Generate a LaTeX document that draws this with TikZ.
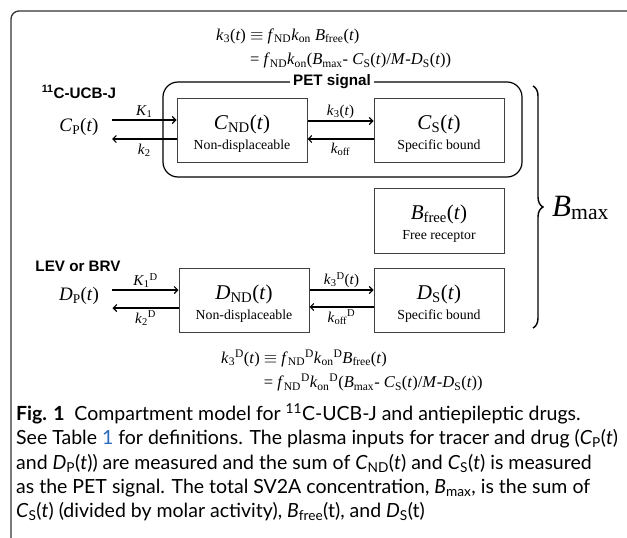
\documentclass[tikz,border=0pt]{standalone}
\usepackage{fontspec}
\setmainfont{Liberation Serif}
\newfontfamily\lbfont{Liberation Sans}
\newfontfamily\capfont{Lato}
\usetikzlibrary{arrows.meta,decorations.pathreplacing}
\definecolor{tabblue}{RGB}{40,105,190}
\newcommand{\vi}[1]{\textit{#1}}
\newcommand{\sbs}[1]{\textsubscript{#1}}
\newcommand{\sps}[1]{\textsuperscript{#1}}
\newcommand{\comp}[2]{\begin{tabular}{@{}c@{}}\fontsize{21}{21}\selectfont\rule[-8pt]{0pt}{30pt}#1\\\fontsize{13.8}{16}\selectfont\rule[-4pt]{0pt}{16pt}#2\end{tabular}}

\begin{document}
\begin{tikzpicture}[x=1pt,y=-1pt,
    box/.style={draw=black!75,line width=1pt,minimum width=130,minimum height=64,inner sep=0pt},
    flow/.style={-{Straight Barb[length=3.5pt,width=7pt]},line width=1.1pt},
    rate/.style={font=\fontsize{15}{16}\selectfont,inner sep=1.5pt},
    tag/.style={font=\lbfont\bfseries\fontsize{15.2}{16}\selectfont},
    inp/.style={font=\fontsize{19}{20}\selectfont}]
  \useasboundingbox (0,0) rectangle (627,538);
  \draw[black!80,line width=1.3pt,rounded corners=8pt] (630,11) -- (11,11) -- (11,541);

  \node[anchor=north west,inner sep=0pt,font=\fontsize{16.5}{24.5}\selectfont] (topeq) at (216,23)
    {\begin{tabular}{@{}r@{ }l@{}}
      \vi{k}\sbs{3}(\vi{t}) & $\equiv$ \vi{f}\sbs{ND}\vi{k}\sbs{on} \vi{B}\sbs{free}(\vi{t})\\
      & = \vi{f}\sbs{ND}\vi{k}\sbs{on}(\vi{B}\sbs{max}- \vi{C}\sbs{S}(\vi{t})/\vi{M}-\vi{D}\sbs{S}(\vi{t}))
    \end{tabular}};

  \node[draw,line width=1.2pt,rounded corners=15pt,minimum width=359,minimum height=95] (pet) at (342.5,129.5) {};
  \node[tag,fill=white,inner sep=3pt] (petlab) at (332,82) {PET signal};

  \node[tag] (tracer) at (79,92) {\sps{11}C-UCB-J};
  \node[inp] (cp) at (79,127) {\vi{C}\sbs{P}(\vi{t})};
  \node[box] (cnd) at (242,130) {\comp{\vi{C}\sbs{ND}(\vi{t})}{Non-displaceable}};
  \node[box] (cs) at (439,130) {\comp{\vi{C}\sbs{S}(\vi{t})}{Specific bound}};
  \node[box,minimum height=65] (bfree) at (439,220.5) {\comp{\vi{B}\sbs{free}(\vi{t})}{Free receptor}};

  \node[tag] (drug) at (78,266) {LEV or BRV};
  \node[inp] (dp) at (79,296) {\vi{D}\sbs{P}(\vi{t})};
  \node[box] (dnd) at (244,300) {\comp{\vi{D}\sbs{ND}(\vi{t})}{Non-displaceable}};
  \node[box] (ds) at (439,300) {\comp{\vi{D}\sbs{S}(\vi{t})}{Specific bound}};

  \draw[flow] ([xshift=10pt,yshift=7pt]cp.east) -- node[rate,above] {\vi{K}\sbs{1}} ([yshift=10pt]cnd.west);
  \draw[flow] ([yshift=-9pt]cnd.west) -- node[rate,below,yshift=-3pt] {\vi{k}\sbs{2}} ([xshift=10pt,yshift=-12pt]cp.east);
  \draw[flow] ([yshift=9pt]cnd.east) -- node[rate,above] {\vi{k}\sbs{3}(\vi{t})} ([yshift=9pt]cs.west);
  \draw[flow] ([yshift=-9pt]cs.west) -- node[rate,below,yshift=-2pt] {\vi{k}\sbs{off}} ([yshift=-9pt]cnd.east);

  \draw[flow] ([xshift=10pt,yshift=6pt]dp.east) -- node[rate,above] {\vi{K}\sbs{1}\sps{D}} ([yshift=10pt]dnd.west);
  \draw[flow] ([yshift=-8pt]dnd.west) -- node[rate,below,yshift=-1pt] {\vi{k}\sbs{2}\sps{D}} ([xshift=10pt,yshift=-12pt]dp.east);
  \draw[flow] ([yshift=10pt]dnd.east) -- node[rate,above] {\vi{k}\sbs{3}\sps{D}(\vi{t})} ([yshift=10pt]ds.west);
  \draw[flow] ([yshift=-7pt]ds.west) -- node[rate,below,yshift=-1pt] {\vi{k}\sbs{off}\sps{D}} ([yshift=-7pt]dnd.east);

  \coordinate (brtop) at (533,86);
  \coordinate (brbot) at (533,328);
  \draw[line width=1.4pt,decorate,decoration={brace,amplitude=10pt}] (brtop) -- (brbot);
  \node[anchor=west,inner sep=0pt,font=\fontsize{31}{32}\selectfont] (bmax) at (552,208) {\vi{B}\sbs{max}};

  \node[anchor=north west,inner sep=0pt,font=\fontsize{16.5}{24.5}\selectfont] (boteq) at (221,346)
    {\begin{tabular}{@{}r@{ }l@{}}
      \vi{k}\sbs{3}\sps{D}(\vi{t}) & $\equiv$ \vi{f}\sbs{ND}\sps{D}\vi{k}\sbs{on}\sps{D}\vi{B}\sbs{free}(\vi{t})\\
      & = \vi{f}\sbs{ND}\sps{D}\vi{k}\sbs{on}\sps{D}(\vi{B}\sbs{max}- \vi{C}\sbs{S}(\vi{t})/\vi{M}-\vi{D}\sbs{S}(\vi{t}))
    \end{tabular}};

  \node[anchor=north west,inner sep=0pt,align=left,font=\capfont\fontsize{19.5}{24.3}\selectfont] (caption) at (16,403)
    {{\bfseries Fig. 1}\enspace Compartment model for \sps{11}C-UCB-J and antiepileptic drugs.\\
     See Table {\color{tabblue}1} for definitions. The plasma inputs for tracer and drug (\vi{C}\sbs{P}(\vi{t})\\
     and \vi{D}\sbs{P}(\vi{t})) are measured and the sum of \vi{C}\sbs{ND}(\vi{t}) and \vi{C}\sbs{S}(\vi{t}) is measured\\
     as the PET signal. The total SV2A concentration, \vi{B}\sbs{max}, is the sum of\\
     \vi{C}\sbs{S}(\vi{t}) (divided by molar activity), \vi{B}\sbs{free}(t), and \vi{D}\sbs{S}(t)};
\end{tikzpicture}
\end{document}
